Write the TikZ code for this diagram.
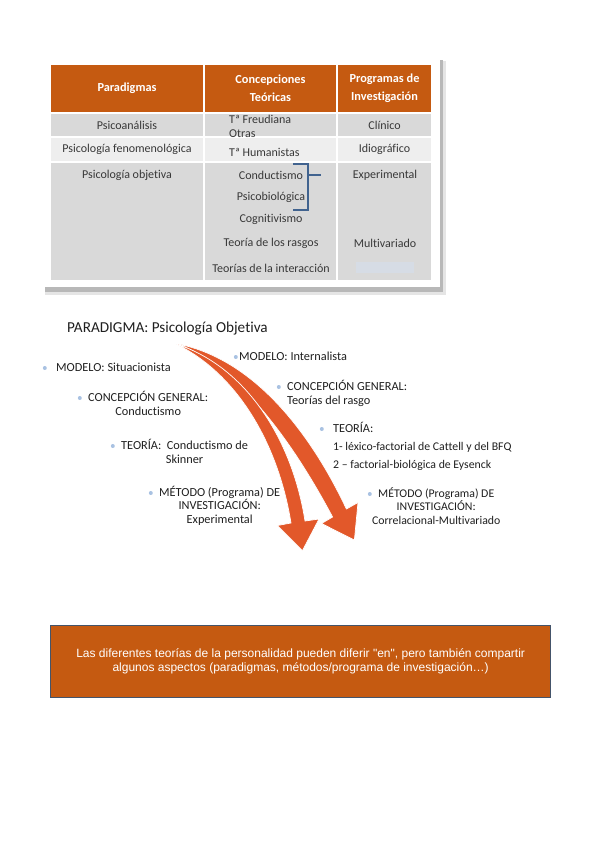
\documentclass[tikz,border=0pt]{standalone}
\usepackage{fontspec}
\setmainfont{Carlito}[Ligatures={TeX,CommonOff}]
\newfontfamily\boxfont{Liberation Sans}
\usetikzlibrary{positioning}
\definecolor{hdrorange}{HTML}{C55A11}
\definecolor{rowgray}{HTML}{D9D9D9}
\definecolor{rowlight}{HTML}{EEEEEE}
\definecolor{arroworange}{HTML}{E2582A}
\definecolor{bulletblue}{HTML}{A9C2E2}
\definecolor{bracketblue}{HTML}{41638F}
\definecolor{boxedge}{HTML}{44546A}
\definecolor{paleblue}{HTML}{D6DCE5}

\begin{document}
\begin{tikzpicture}[x=1pt,y=-1pt,
  cell/.style={rectangle, draw=white, line width=1.2pt, outer sep=0pt, inner sep=0pt, anchor=north west},
  hdr/.style={font=\bfseries\fontsize{12.3}{18}\selectfont, text=white, align=center},
  txt/.style={font=\fontsize{12}{14}\selectfont, text=black!78, inner sep=0pt},
  item/.style={font=\fontsize{12.3}{14}\selectfont, text=black!88, inner sep=0pt, text height=8.5pt, text depth=2.5pt},
  smallitem/.style={item, font=\fontsize{11.8}{14}\selectfont},
  dot/.style={circle, fill=bulletblue, inner sep=0pt, minimum size=4pt},
  bigarrow/.style={fill=arroworange, draw=white, line width=0.7pt}]

\useasboundingbox (0,0) rectangle (599,848);

% table with its frame
\fill[black!10] (45,61) rectangle (446,295);
\fill[black!28] (45,60) rectangle (443,292);
\fill[white] (41,56) rectangle (440,287);

\node[cell, hdr, fill=hdrorange, minimum width=154pt, minimum height=49pt] (h1) at (50,64) {Paradigmas};
\node[cell, hdr, fill=hdrorange, minimum width=133pt, minimum height=49pt, right=0pt of h1.north east, anchor=north west] (h2) {Concepciones\\Teóricas};
\node[cell, hdr, fill=hdrorange, minimum width=95pt, minimum height=49pt, right=0pt of h2.north east, anchor=north west] (h3) {Programas de\\Investigación};

\node[cell, txt, fill=rowgray, minimum width=154pt, minimum height=24pt, below=0pt of h1.south west, anchor=north west] (c11) {Psicoanálisis};
\node[cell, fill=rowgray, minimum width=133pt, minimum height=24pt, below=0pt of h2.south west, anchor=north west] (c12) {};
\node[cell, txt, fill=rowgray, minimum width=95pt, minimum height=24pt, below=0pt of h3.south west, anchor=north west] (c13) {Clínico};

\node[cell, txt, fill=rowlight, minimum width=154pt, minimum height=25pt, below=0pt of c11.south west, anchor=north west] (c21) {Psicología fenomenológica};
\node[cell, fill=rowlight, minimum width=133pt, minimum height=25pt, below=0pt of c12.south west, anchor=north west] (c22) {};
\node[cell, txt, fill=rowlight, minimum width=95pt, minimum height=25pt, below=0pt of c13.south west, anchor=north west] (c23) {Idiográfico};

\node[cell, fill=rowgray, minimum width=154pt, minimum height=119pt, below=0pt of c21.south west, anchor=north west] (c31) {};
\node[cell, fill=rowgray, minimum width=133pt, minimum height=119pt, below=0pt of c22.south west, anchor=north west] (c32) {};
\node[cell, fill=rowgray, minimum width=95pt, minimum height=119pt, below=0pt of c23.south west, anchor=north west] (c33) {};

% texts of the conceptions column
\node[txt, anchor=west, align=left] (freud) at (229,126) {Tª Freudiana\\Otras};
\node[txt, anchor=west] (human) at (229,152) {Tª Humanistas};
\node[txt, below=8pt of c31.north] (pobj) {Psicología objetiva};
\node[txt] (cond) at (271,175) {Conductismo};
\node[txt] (psbio) at (271,197) {Psicobiológica};
\node[txt] (cogn) at (271,219) {Cognitivismo};
\node[txt] (rasg) at (271,243) {Teoría de los rasgos};
\node[txt] (inter) at (271,268) {Teorías de la interacción};
\node[txt] (exper) at (385,175) {Experimental};
\node[txt] (multi) at (385,243) {Multivariado};
\fill[paleblue] (356,262) rectangle (414,273);

% bracket
\draw[bracketblue, line width=1.1pt] (293,164) -- (308,164) -- (308,210) -- (293,210);
\draw[bracketblue, line width=1.1pt] (308,175) -- (321,175);

% paradigm and the two arrows
\node[font=\fontsize{15.2}{18}\selectfont, text=black!88, inner sep=0pt, anchor=base west] (parad) at (67,332) {PARADIGMA: Psicología Objetiva};

\fill[bigarrow] (178,344) .. controls (258,360) and (314,440) .. (346.4,509)
  -- (358,502.5) -- (354.4,540) -- (321.5,523.5) -- (332.6,517)
  .. controls (298,452) and (244,370) .. (178,344) -- cycle;
\fill[bigarrow] (176,344) .. controls (245,366) and (292,438) .. (305,521)
  -- (319,519) -- (302.5,550.5) -- (277.5,525.5) -- (291,523)
  .. controls (278,442) and (236,373) .. (176,344) -- cycle;

% left column of the model
\node[item, anchor=base west] (sit) at (56,371) {MODELO: Situacionista};
\node[dot, left=9pt of sit] {};
\node[item, anchor=base west] (cgl) at (88,401) {CONCEPCIÓN GENERAL:};
\node[dot, left=6pt of cgl] {};
\node[item, below=3pt of cgl] (cgl2) {Conductismo};
\node[item, anchor=base west] (teol) at (121,449) {TEORÍA:\ \ Conductismo de};
\node[dot, left=6pt of teol] {};
\node[item, below=3pt of teol] (teol2) {Skinner};
\node[item, anchor=base west] (metl) at (159,496) {MÉTODO (Programa) DE};
\node[dot, left=6pt of metl] {};
\node[item, below=2.5pt of metl] (metl2) {INVESTIGACIÓN:};
\node[item, below=2.5pt of metl2] (metl3) {Experimental};

% right column of the model
\node[item, anchor=base west] (intl) at (239,360) {MODELO: Internalista};
\node[dot, left=1pt of intl] {};
\node[item, anchor=base west] (cgr) at (287,390) {CONCEPCIÓN GENERAL:};
\node[dot, left=6pt of cgr] {};
\node[item, below=3pt of cgr.south west, anchor=north west] (cgr2) {Teorías del rasgo};
\node[item, anchor=base west] (teor) at (333,432) {TEORÍA:};
\node[dot, left=9pt of teor] {};
\node[smallitem, below=7pt of teor.south west, anchor=north west] (teor1) {1- léxico-factorial de Cattell y del BFQ};
\node[smallitem, below=7pt of teor1.south west, anchor=north west] (teor2) {2 -- factorial-biológica de Eysenck};
\node[smallitem, anchor=base west] (metr) at (378,497) {MÉTODO (Programa) DE};
\node[dot, left=6pt of metr] {};
\node[smallitem, below=2.5pt of metr] (metr2) {INVESTIGACIÓN:};
\node[smallitem, below=2.5pt of metr2] (metr3) {Correlacional-Multivariado};

% note box
\node[draw=boxedge, line width=1.3pt, fill=hdrorange, minimum width=500pt, minimum height=72pt, anchor=north west,
  text=white, align=center, font=\boxfont\fontsize{12}{14}\selectfont] (note) at (50,625)
  {Las diferentes teorías de la personalidad pueden diferir "en", pero también compartir\\
   algunos aspectos (paradigmas, métodos/programa de investigación…)};
\end{tikzpicture}
\end{document}
